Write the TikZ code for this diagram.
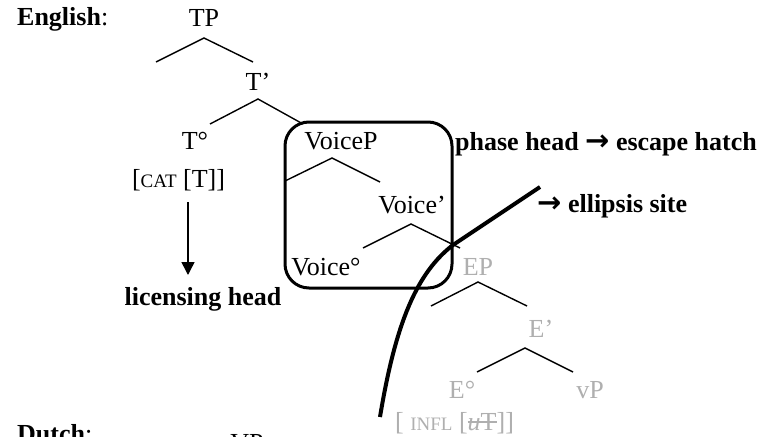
\documentclass[tikz,border=0pt]{standalone}
\usepackage{fontspec}
\setmainfont{Liberation Serif}
\newfontfamily\arrowfont{DejaVu Sans}
\usetikzlibrary{positioning,arrows.meta}
\definecolor{elided}{RGB}{175,175,175}
\newcommand{\smallcap}[1]{{\fontsize{19}{20}\selectfont #1}}
\newcommand{\thickarrow}{{\arrowfont\bfseries\fontsize{29}{30}\selectfont →}}
\newcommand{\strikeout}[1]{\setbox0=\hbox{#1}\rlap{\copy0}\rule[0.27em]{\wd0}{0.06em}}

\begin{document}
\begin{tikzpicture}[x=1pt,y=-1pt,font=\fontsize{26}{30}\selectfont,
  lab/.style={anchor=base, inner sep=0pt},
  gone/.style={lab, text=elided},
  note/.style={lab, anchor=base west, font=\fontsize{26}{30}\selectfont\bfseries},
  branch/.style={line width=1.4pt},
  licarrow/.style={-{Triangle[length=13pt,width=13pt]}, line width=1.5pt}]
\useasboundingbox (0,0) rectangle (778,436);
% labels
\node[lab, anchor=base west] (english) at (17,26) {\textbf{English}:};
\node[lab, anchor=base west] (dutch) at (17,442) {\textbf{Dutch}:};
\node[lab] (vpdutch) at (247,451) {VP};
% English tree
\node[lab] (tp) at (204,27) {TP};
\node[lab] (tbar) at (258,90) {T’};
\node[lab] (t0) at (195,149) {T°};
\node[lab] (cat) at (178.5,187) {[\smallcap{CAT} [T]]};
\node[note, anchor=base] (lic) at (203,305) {licensing head};
\node[lab] (voicep) at (341,149) {VoiceP};
\node[lab] (voicebar) at (412,213) {Voice’};
\node[lab] (voice0) at (326,275) {Voice°};
\node[gone] (ep) at (478,275) {EP};
\node[gone] (ebar) at (541,337) {E’};
\node[gone] (e0) at (462,398) {E°};
\node[gone] (vp) at (590,398) {vP};
\node[gone, anchor=base west] (infl) at (395,430) {[ \smallcap{INFL} [\strikeout{\textit{u}T}]]};
\node[note] (phasenote) at (455,150) {phase head \thickarrow\ escape hatch};
\node[note] (ellipsisnote) at (537,212) {\thickarrow\ ellipsis site};
% branches
\coordinate (tpA) at (204,38); \coordinate (tpL) at (156,62); \coordinate (tpR) at (253,62);
\coordinate (tbA) at (258,99); \coordinate (tbL) at (210,124); \coordinate (tbR) at (303,124);
\coordinate (vpA) at (332,158); \coordinate (vpL) at (285,181); \coordinate (vpR) at (380,182);
\coordinate (vbA) at (411,224); \coordinate (vbL) at (363,248); \coordinate (vbR) at (460,248);
\coordinate (epA) at (478,282); \coordinate (epL) at (431,306); \coordinate (epR) at (527,306);
\coordinate (ebA) at (525,348); \coordinate (ebL) at (477,372); \coordinate (ebR) at (573,372);
\draw[branch] (tpL) -- (tpA) -- (tpR);
\draw[branch] (tbL) -- (tbA) -- (tbR);
\draw[branch] (vpL) -- (vpA) -- (vpR);
\draw[branch] (vbL) -- (vbA) -- (vbR);
\draw[branch] (epL) -- (epA) -- (epR);
\draw[branch] (ebL) -- (ebA) -- (ebR);
% phase box and ellipsis cut
\node[draw, line width=3pt, rounded corners=24pt, minimum width=167pt, minimum height=166pt] (phase) at (368.5,205) {};
\coordinate (cutS) at (380,417); \coordinate (cutX) at (453,245); \coordinate (cutN) at (540,187);
\draw[line width=4pt, line join=round] (cutS) .. controls (396,320) and (418,272) .. (cutX) -- (cutN);
% licensing arrow
\coordinate (licfrom) at (188,202); \coordinate (licto) at (188,275);
\draw[licarrow] (licfrom) -- (licto);
\end{tikzpicture}
\end{document}
